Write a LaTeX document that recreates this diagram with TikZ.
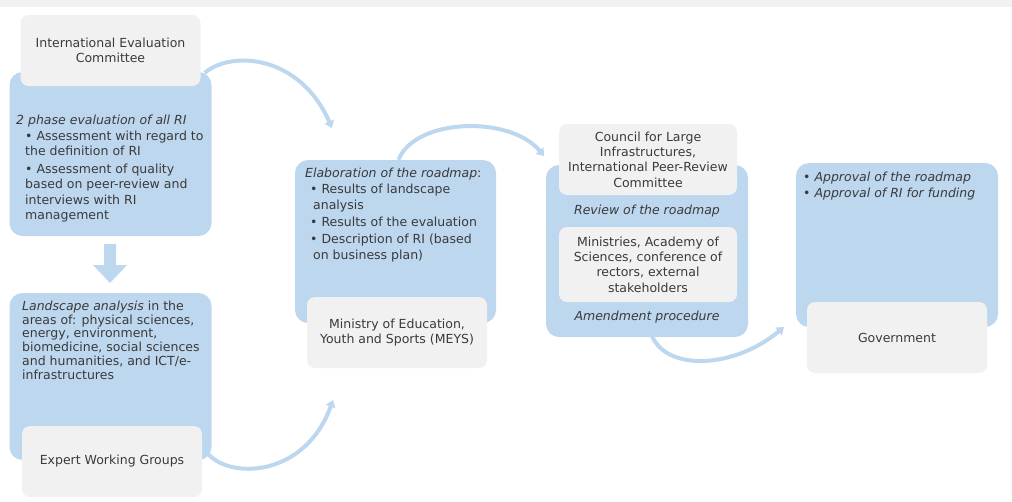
\documentclass[tikz,border=0pt]{standalone}
\usepackage{fontspec}
\setmainfont{DejaVu Sans}
\usepackage{tikz}
\usetikzlibrary{arrows.meta, calc}
\definecolor{roadblue}{HTML}{BDD7EE}
\definecolor{roadgrey}{HTML}{F1F1F1}
\definecolor{roadtext}{HTML}{3A3A3A}

\begin{document}
\begin{tikzpicture}[x=1pt, y=-1pt,
  font=\fontsize{12.5}{15.3}\selectfont, text=roadtext,
  bluebox/.style={fill=roadblue, rounded corners=13pt, minimum width=202pt, inner sep=0pt},
  greybox/.style={fill=roadgrey, rounded corners=8pt, minimum width=180pt, align=center, inner sep=0pt},
  txt/.style={anchor=north west, inner sep=0pt, align=left},
  flow/.style={draw=roadblue, line width=4pt, -{Triangle[length=7pt,width=10pt]}}]
  \useasboundingbox (0,0) rectangle (1012,501);
  \fill[roadgrey] (0,0) rectangle (1012,7);

  % evaluation and landscape analysis
  \node[bluebox, minimum height=164pt] (eval) at (110.5,154) {};
  \node[greybox, minimum height=71pt] (iec) at (110.5,50.5) {International Evaluation\\Committee};
  \node[txt] (evaltxt) at (16,114.5) {\textit{2 phase evaluation of all RI}\\[0.7pt]
    \hspace*{9pt}\textbullet\ Assessment with regard to\\
    \hspace*{9pt}the definition of RI\\[2.7pt]
    \hspace*{9pt}\textbullet\ Assessment of quality\\
    \hspace*{9pt}based on peer-review and\\
    \hspace*{9pt}interviews with RI\\
    \hspace*{9pt}management};
  \fill[roadblue] (104,244) -- (116,244) -- (116,265) -- (127,265) -- (110,283)
    -- (93,265) -- (104,265) -- cycle;
  \node[bluebox, minimum height=167pt] (land) at (110.5,376.5) {};
  \node[greybox, minimum height=71pt] (ewg) at (112,461.5) {Expert Working Groups};
  \node[txt, font=\fontsize{12.5}{13.8}\selectfont] (landtxt) at (22,300.5)
    {\textit{Landscape analysis} in the\\
    areas of: physical sciences,\\
    energy, environment,\\
    biomedicine, social sciences\\
    and humanities, and ICT/e-\\
    infrastructures};

  % roadmap
  \node[bluebox, minimum width=201pt, minimum height=163pt] (elab) at (395.5,241.5) {};
  \node[greybox, minimum height=71pt] (meys) at (397,332.5) {Ministry of Education,\\Youth and Sports (MEYS)};
  \node[txt, font=\fontsize{12.5}{15.8}\selectfont] (elabtxt) at (305,167.5)
    {\textit{Elaboration of the roadmap}:\\[0.7pt]
    \hspace*{5pt}\textbullet\ Results of landscape\\
    \hspace*{8pt}analysis\\[1.2pt]
    \hspace*{5pt}\textbullet\ Results of the evaluation\\[1.2pt]
    \hspace*{5pt}\textbullet\ Description of RI (based\\
    \hspace*{8pt}on business plan)};

  % review
  \node[bluebox, minimum height=172pt] (review) at (647,251) {};
  \node[greybox, minimum width=178pt, minimum height=71pt] (council) at (648,159.5)
    {Council for Large\\Infrastructures,\\International Peer-Review\\Committee};
  \node (revtxt) at (647,211) {\textit{Review of the roadmap}};
  \node[greybox, minimum width=178pt, minimum height=75pt] (stake) at (648,264.5)
    {Ministries, Academy of\\Sciences, conference of\\rectors, external\\stakeholders};
  \node (amendtxt) at (647,317) {\textit{Amendment procedure}};

  % approval
  \node[bluebox, minimum height=164pt] (approval) at (897,245) {};
  \node[greybox, minimum height=71pt] (gov) at (897,337.5) {Government};
  \node[txt] (apptxt) at (803,171.5) {\textbullet\ \textit{Approval of the roadmap}\\[0.7pt]
    \textbullet\ \textit{Approval of RI for funding}};

  % curved arrows between the stages
  \coordinate (t1) at (332,128);
  \coordinate (t2) at (544,156);
  \coordinate (t3) at (784,327);
  \coordinate (t4) at (333,400);
  \draw[flow] ($(eval.north east)+(-7,1)$) .. controls (232,50) and (300,55) .. (t1);
  \draw[flow] ($(elab.north)+(3,0)$) .. controls (415,118) and (510,115) .. (t2);
  \draw[flow] ($(review.south)+(5,-1)$) .. controls (668,372) and (735,368) .. (t3);
  \draw[flow] ($(land.south east)+(-5,-8)$) .. controls (228,480) and (305,478) .. (t4);
\end{tikzpicture}
\end{document}
